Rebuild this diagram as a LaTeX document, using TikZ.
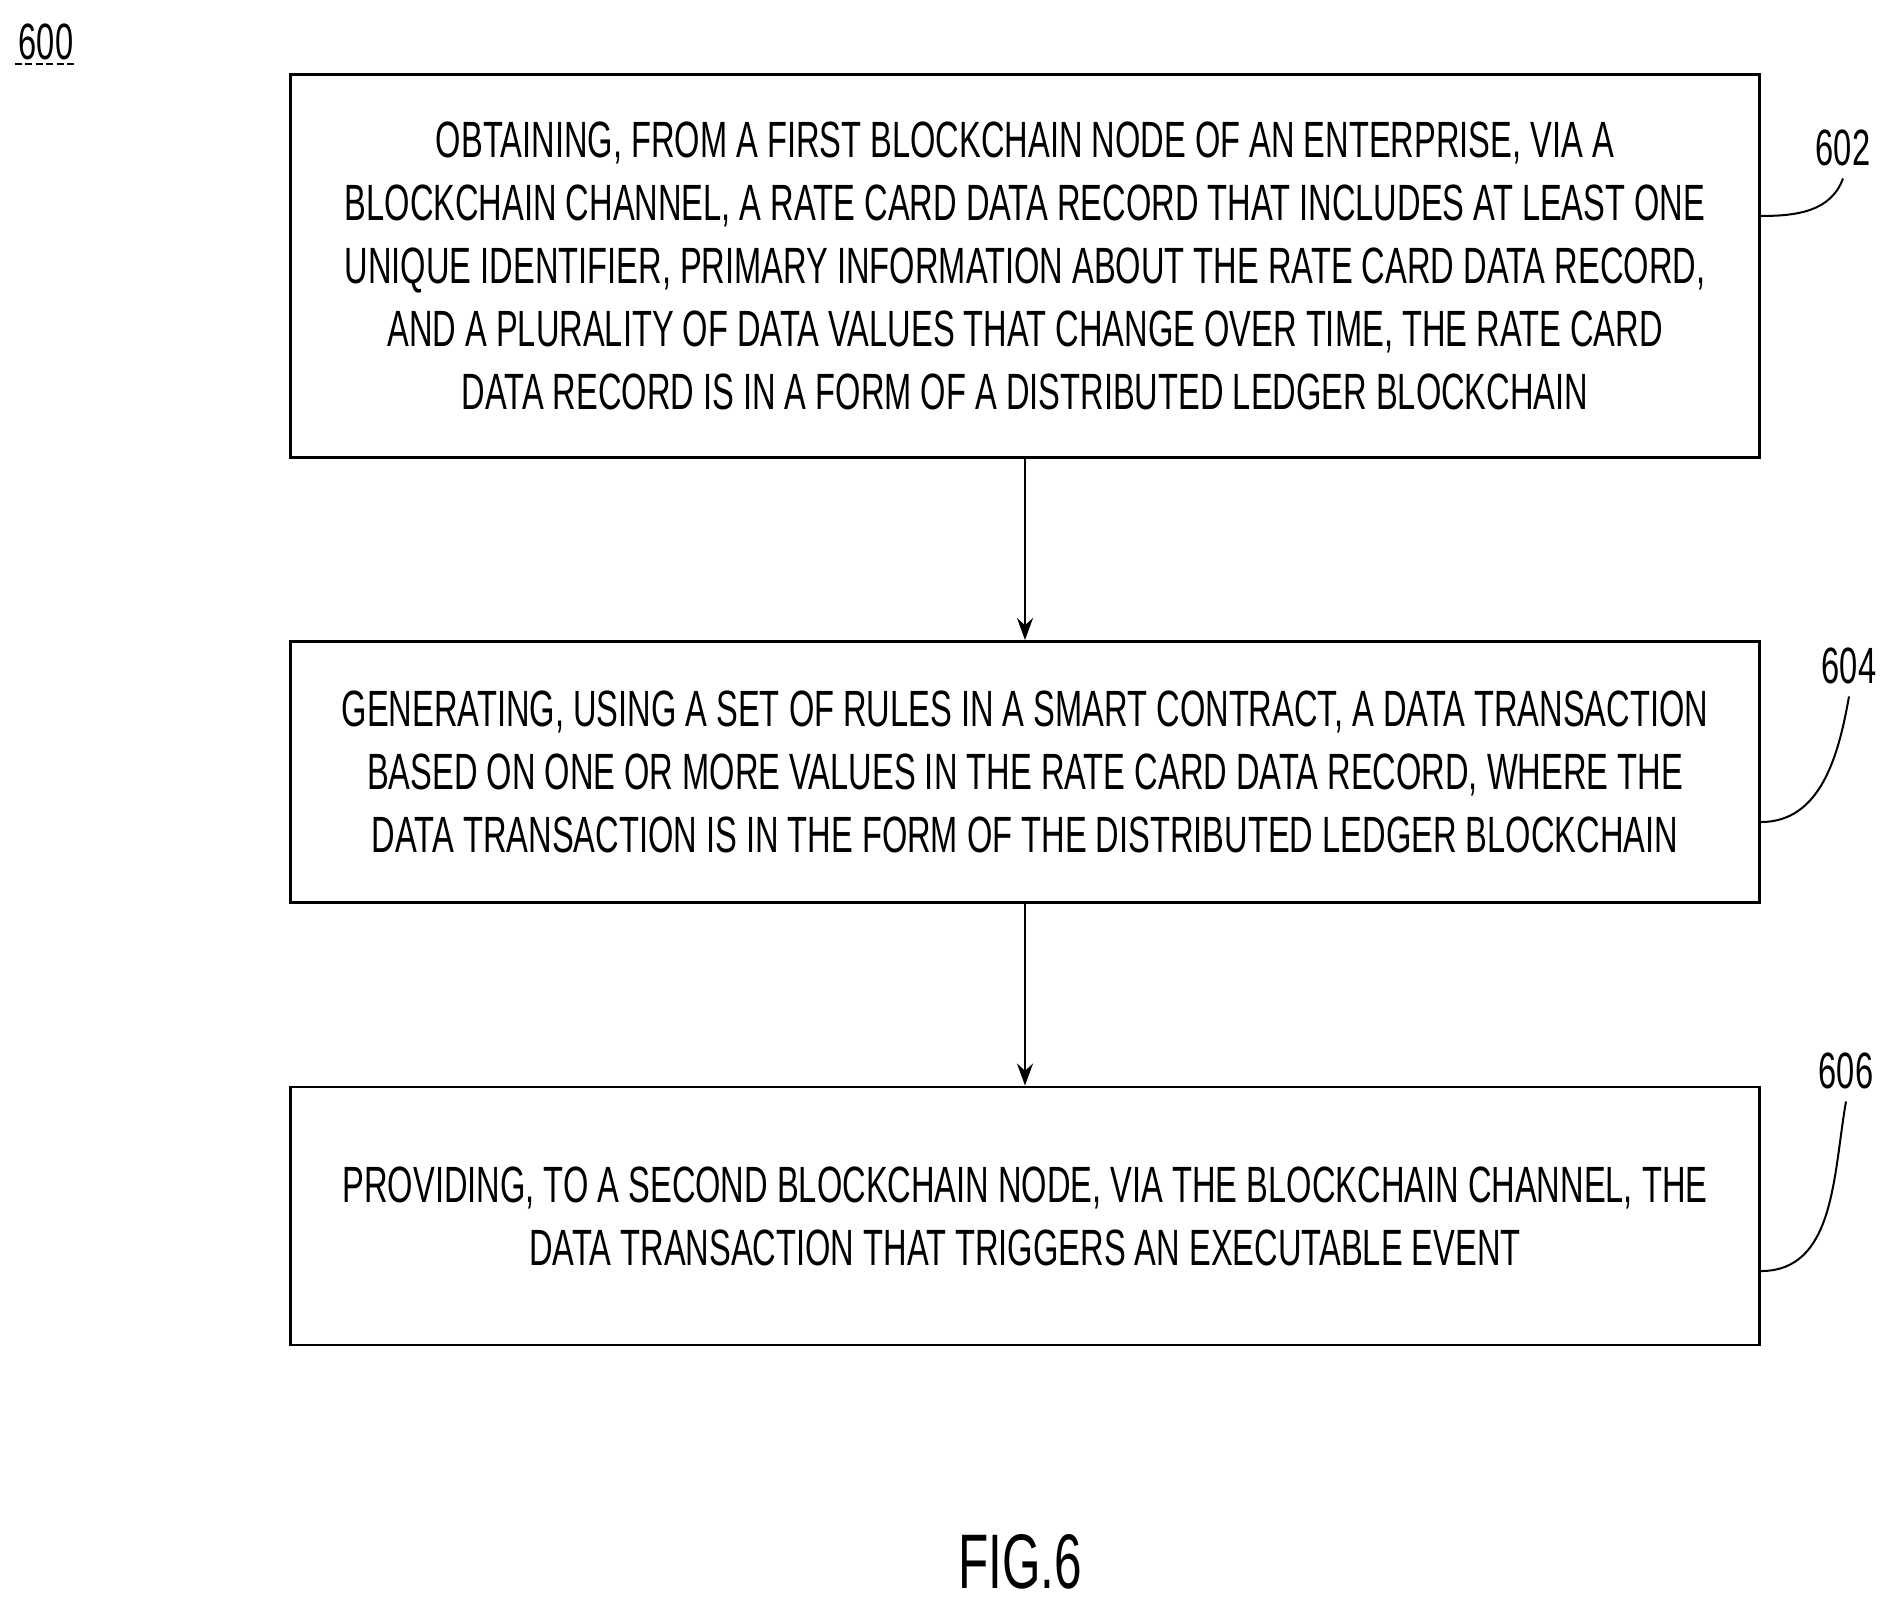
\documentclass[tikz,border=0pt]{standalone}
\usepackage{fontspec}
\setmainfont{Liberation Sans}[FakeStretch=0.64]
\usetikzlibrary{arrows.meta}
\begin{document}
\begin{tikzpicture}[x=0.01cm,y=-0.01cm,
  box/.style={draw,line width=0.028cm,minimum width=14.68cm,align=center,font=\fontsize{14.5}{17.9}\selectfont,inner sep=0pt},
  lab/.style={font=\fontsize{14.5}{17}\selectfont},
  arr/.style={line width=0.02cm,-{Stealth[length=0.22cm,width=0.16cm]}},
  lead/.style={line width=0.02cm}]
\useasboundingbox (0,0) rectangle (1887,1605);
\node[box,minimum height=3.82cm] (b1) at (1025,266) {OBTAINING, FROM A FIRST BLOCKCHAIN NODE OF AN ENTERPRISE, VIA A\\BLOCKCHAIN CHANNEL, A RATE CARD DATA RECORD THAT INCLUDES AT LEAST ONE\\UNIQUE IDENTIFIER, PRIMARY INFORMATION ABOUT THE RATE CARD DATA RECORD,\\AND A PLURALITY OF DATA VALUES THAT CHANGE OVER TIME, THE RATE CARD\\DATA RECORD IS IN A FORM OF A DISTRIBUTED LEDGER BLOCKCHAIN};
\node[box,minimum height=2.61cm] (b2) at (1025,772) {GENERATING, USING A SET OF RULES IN A SMART CONTRACT, A DATA TRANSACTION\\BASED ON ONE OR MORE VALUES IN THE RATE CARD DATA RECORD, WHERE THE\\DATA TRANSACTION IS IN THE FORM OF THE DISTRIBUTED LEDGER BLOCKCHAIN};
\node[box,minimum height=2.58cm] (b3) at (1025,1216) {PROVIDING, TO A SECOND BLOCKCHAIN NODE, VIA THE BLOCKCHAIN CHANNEL, THE\\DATA TRANSACTION THAT TRIGGERS AN EXECUTABLE EVENT};
\draw[arr] (b1) -- (b2);
\draw[arr] (b2) -- (b3);
\node[lab] (l602) at (1843,148) {602};
\node[lab] (l604) at (1849,666) {604};
\node[lab] (l606) at (1846,1071) {606};
\coordinate (c1) at ([yshift=0.5cm]b1.east);
\coordinate (c2) at ([yshift=-0.5cm]b2.east);
\coordinate (c3) at ([yshift=-0.55cm]b3.east);
\draw[lead] (c1) to[out=0,in=-110] (l602.south);
\draw[lead] (c2) to[out=0,in=-100] (l604.south);
\draw[lead] (c3) to[out=0,in=-100] (l606.south);
\node[lab,inner sep=1pt] (l600) at (46,42) {600};
\draw[line width=0.02cm,dash pattern=on 2pt off 1pt] (l600.south west) -- (l600.south east);
\node[font=\fontsize{22}{26}\selectfont] (fig) at (1020,1562) {FIG.6};
\end{tikzpicture}
\end{document}
